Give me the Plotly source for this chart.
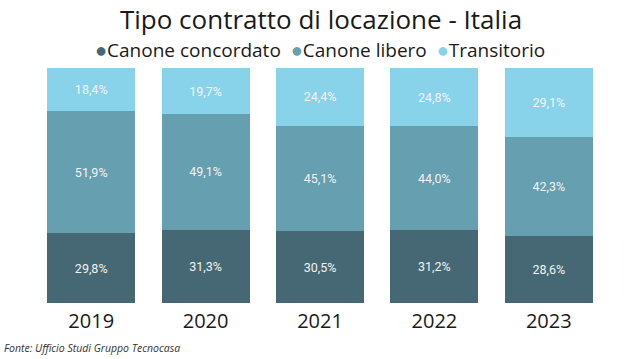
import plotly.graph_objects as go

years = ["2019", "2020", "2021", "2022", "2023"]
concordato = [29.8, 31.3, 30.5, 31.2, 28.6]
libero = [51.9, 49.1, 45.1, 44.0, 42.3]
transitorio = [18.4, 19.7, 24.4, 24.8, 29.1]

names = ["Canone concordato", "Canone libero", "Transitorio"]
colors = ["#466874", "#659fb0", "#89d3ea"]
series = [concordato, libero, transitorio]

fig = go.Figure()
for name, col, vals in zip(names, colors, series):
    fig.add_trace(go.Bar(
        x=years, y=vals, name=name, marker=dict(color=col, line=dict(width=0)),
        text=[f"{v:.1f}%".replace(".", ",") for v in vals],
        textposition="inside", insidetextanchor="middle",
        textfont=dict(color="#f2f2f2", size=12.5, family="Roboto"),
        showlegend=False, hoverinfo="skip",
    ))

legend_text = "&nbsp;&nbsp;".join(
    f"<span style='color:{c};font-size:20px'>●</span>{n}" for n, c in zip(names, colors)
)

fig.update_layout(
    barmode="stack", bargap=0.23,
    width=642, height=359,
    paper_bgcolor="white", plot_bgcolor="white",
    margin=dict(l=34, r=36, t=68, b=56, autoexpand=False),
    showlegend=False,
    title=dict(text="Tipo contratto di locazione - Italia", x=0.5, xanchor="center",
               y=0.945, yanchor="middle",
               font=dict(family="Open Sans", size=26, color="#1a1a1a")),
    xaxis=dict(showgrid=False, showline=False, ticks="", range=[-0.5, 4.5],
               ticklabelstandoff=4,
               tickfont=dict(family="Open Sans", size=20, color="#1a1a1a")),
    yaxis=dict(visible=False, range=[0, 100.1]),
    annotations=[
        dict(text=legend_text, xref="paper", yref="paper", x=0.5, y=1.077,
             xanchor="center", yanchor="middle", showarrow=False,
             font=dict(family="Open Sans", size=19, color="#1a1a1a")),
        dict(text="<i>Fonte: Ufficio Studi Gruppo Tecnocasa</i>",
             xref="paper", yref="paper", x=-0.056, y=-0.19,
             xanchor="left", yanchor="middle", showarrow=False,
             font=dict(family="Open Sans", size=10.5, color="#333333")),
    ],
)

fig.write_html("out.html", config={"displayModeBar": False},
               post_script="document.body.style.margin='0px';")
